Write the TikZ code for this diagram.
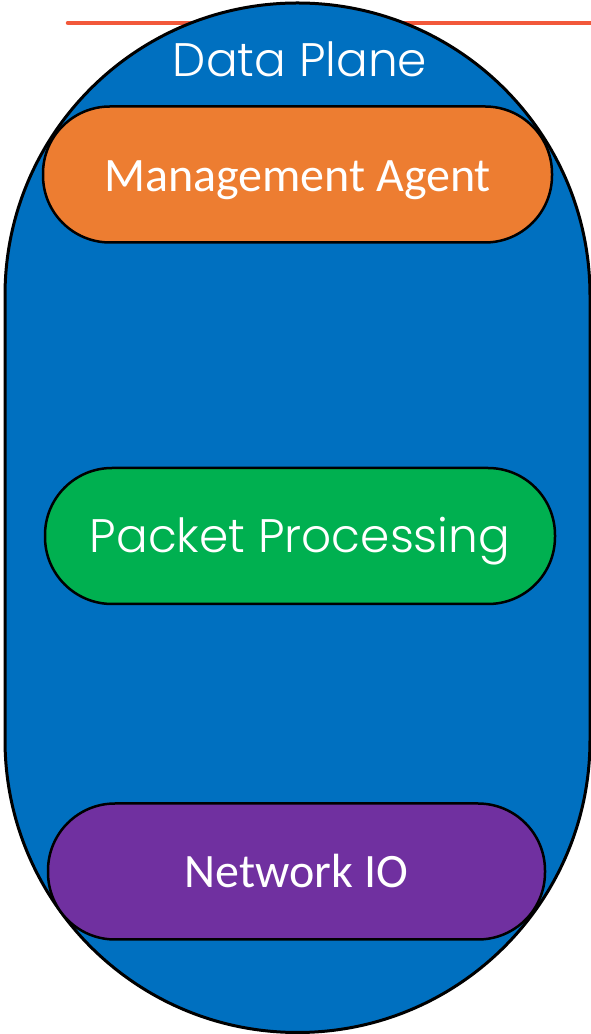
\documentclass[tikz,border=0pt]{standalone}
\usepackage{fontspec}
\setmainfont{Carlito}
\newfontfamily\gothic{Poppins}[UprightFont=* Light]
\definecolor{planeblue}{RGB}{0,112,192}
\definecolor{mgmtorange}{RGB}{237,125,49}
\definecolor{pktgreen}{RGB}{0,176,80}
\definecolor{nioviolet}{RGB}{112,48,160}
\definecolor{rulered}{RGB}{242,88,58}
\tikzset{
  pill/.style={draw=black, line width=2.5pt, rounded corners=67pt,
    minimum height=136pt, text=white, inner sep=0pt},
  gothictext/.style={text=white, font=\gothic\fontsize{47}{52}\selectfont},
  calibritext/.style={font=\fontsize{48}{56}\selectfont,
    text height=33pt, text depth=0pt},
}
\begin{document}
\begin{tikzpicture}[x=1pt,y=1pt]
  \useasboundingbox (0,0) rectangle (591,1034);
  % header rule behind the plane
  \coordinate (ruleL) at (68,1011);
  \coordinate (ruleR) at (593,1011);
  \draw[rulered, line width=4.5pt, line cap=round] (ruleL) -- (ruleR);
  % data plane outline
  \draw[fill=planeblue, draw=black, line width=3pt]
    (5,294) -- (5,738.5) arc[start angle=180, end angle=0, radius=292.5]
    -- (590,294) arc[start angle=0, end angle=-180, radius=292.5] -- cycle;
  \node[gothictext, anchor=base] (title) at (300,957) {Data Plane};
  % stacked components
  \node[pill, fill=mgmtorange, minimum width=509pt, calibritext,
    text height=35pt] (mgmt) at (297.5,859.5) {Management Agent};
  \node[pill, fill=pktgreen, minimum width=510pt, gothictext,
    text height=33pt, text depth=0pt] (pkt) at (300,498) {Packet Processing};
  \node[pill, fill=nioviolet, minimum width=497pt, calibritext] (nio) at (296.5,162.5) {Network IO};
\end{tikzpicture}
\end{document}
